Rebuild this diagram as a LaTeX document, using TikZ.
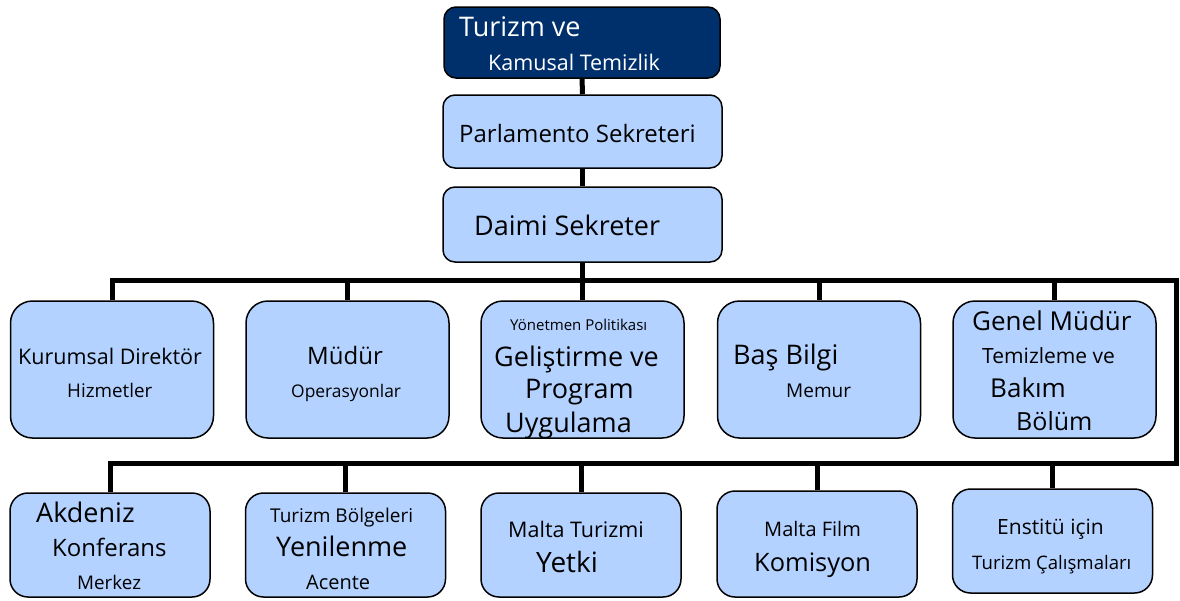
\documentclass[tikz,border=0pt]{standalone}
\usepackage{fontspec}
\setmainfont{Open Sans}
\usetikzlibrary{positioning}
\definecolor{boxblue}{RGB}{179,210,255}
\definecolor{headnavy}{RGB}{0,48,108}
\newcommand{\setfz}[1]{\fontsize{#1}{#1}\selectfont}

\begin{document}
\begin{tikzpicture}[
    x=1pt, y=-1pt,
    unit/.style={draw, fill=boxblue, line width=1.5pt, rounded corners=22pt, inner sep=0pt},
    headunit/.style={draw, fill=headnavy, line width=1.5pt, rounded corners=12pt, inner sep=0pt},
    rowA/.style={unit, minimum width=203pt, minimum height=137pt},
    rowB/.style={unit, rounded corners=18pt, minimum width=200pt, minimum height=104pt},
    word/.style={anchor=base west, inner sep=0pt},
    link/.style={line width=5pt}
]
    \useasboundingbox (0,0) rectangle (1180,600);

    % Top of the chart
    \node[headunit, minimum width=276pt, minimum height=71pt] (minister) at (582,42.5) {};
    \node[unit, rounded corners=12pt, minimum width=279pt, minimum height=73pt] (parl) at (582.5,131.5) {};
    \node[unit, rounded corners=12pt, minimum width=279pt, minimum height=75pt] (daimi) at (582.5,224.5) {};

    \node[word, white, font=\setfz{27}] (minister-1) at (459,36) {Turizm ve};
    \node[word, white, font=\setfz{21.5}] (minister-2) at (488,70) {Kamusal Temizlik};
    \node[word, font=\setfz{24}] (parl-1) at (459,142) {Parlamento Sekreteri};
    \node[word, font=\setfz{27}] (daimi-1) at (474,235) {Daimi Sekreter};

    % First row of units
    \node[rowA] (kurumsal) at (112,369.5) {};
    \node[rowA] (mudur) at (347.5,369.5) {};
    \node[rowA] (politika) at (582.5,369.5) {};
    \node[rowA] (basbilgi) at (819,369.5) {};
    \node[rowA] (genel) at (1054.5,369.5) {};

    \node[word, font=\setfz{21.5}] (kurumsal-1) at (18,364) {Kurumsal Direktör};
    \node[word, font=\setfz{18.8}] (kurumsal-2) at (67,397) {Hizmetler};
    \node[word, font=\setfz{24}] (mudur-1) at (307,364) {Müdür};
    \node[word, font=\setfz{17.4}] (mudur-2) at (291,397) {Operasyonlar};
    \node[word, font=\setfz{15}] (politika-1) at (510,330) {Yönetmen Politikası};
    \node[word, font=\setfz{27}] (politika-2) at (494,366) {Geliştirme ve};
    \node[word, font=\setfz{27}] (politika-3) at (525,398) {Program};
    \node[word, font=\setfz{27}] (politika-4) at (505,432) {Uygulama};
    \node[word, font=\setfz{27}] (basbilgi-1) at (733,364) {Baş Bilgi};
    \node[word, font=\setfz{19}] (basbilgi-2) at (786,397) {Memur};
    \node[word, font=\setfz{26}] (genel-1) at (972,330) {Genel Müdür};
    \node[word, font=\setfz{21}] (genel-2) at (982,363) {Temizleme ve};
    \node[word, font=\setfz{26}] (genel-3) at (990,397) {Bakım};
    \node[word, font=\setfz{25}] (genel-4) at (1016,430) {Bölüm};

    % Second row of units
    \node[rowB] (akdeniz) at (110,545) {};
    \node[rowB] (bolgeler) at (345.5,545) {};
    \node[rowB] (maltaturizm) at (581,545) {};
    \node[rowB, minimum height=106pt] (maltafilm) at (817,544) {};
    \node[rowB] (enstitu) at (1052.5,541) {};

    \node[word, font=\setfz{27}] (akdeniz-1) at (36,522) {Akdeniz};
    \node[word, font=\setfz{24}] (akdeniz-2) at (52,556) {Konferans};
    \node[word, font=\setfz{18.8}] (akdeniz-3) at (77,589) {Merkez};
    \node[word, font=\setfz{19}] (bolgeler-1) at (270,522) {Turizm Bölgeleri};
    \node[word, font=\setfz{27}] (bolgeler-2) at (276,556) {Yenilenme};
    \node[word, font=\setfz{20}] (bolgeler-3) at (306,589) {Acente};
    \node[word, font=\setfz{21.5}] (maltaturizm-1) at (508,537) {Malta Turizmi};
    \node[word, font=\setfz{28}] (maltaturizm-2) at (536,572) {Yetki};
    \node[word, font=\setfz{20}] (maltafilm-1) at (764,536) {Malta Film};
    \node[word, font=\setfz{25.4}] (maltafilm-2) at (754,571) {Komisyon};
    \node[word, font=\setfz{21}] (enstitu-1) at (997,534) {Enstitü için};
    \node[word, font=\setfz{18.6}] (enstitu-2) at (972,569) {Turizm Çalışmaları};

    % Connectors
    \coordinate (busL) at (110,280);
    \coordinate (busR) at (1176,280);
    \coordinate (busB) at (1176,463);

    \draw[link] (minister) -- (parl);
    \draw[link] (parl) -- (daimi);
    \draw[link] (daimi.south) -- (daimi.south |- busL);
    \draw[link] (kurumsal.north) |- (busR) -- (busB) -| (akdeniz.north);
    \draw[link] (mudur.north) -- (mudur.north |- busL);
    \draw[link] (politika.north) -- (politika.north |- busL);
    \draw[link] (basbilgi.north) -- (basbilgi.north |- busL);
    \draw[link] (genel.north) -- (genel.north |- busL);
    \draw[link] (bolgeler.north) -- (bolgeler.north |- busB);
    \draw[link] (maltaturizm.north) -- (maltaturizm.north |- busB);
    \draw[link] (maltafilm.north) -- (maltafilm.north |- busB);
    \draw[link] (enstitu.north) -- (enstitu.north |- busB);
\end{tikzpicture}
\end{document}
